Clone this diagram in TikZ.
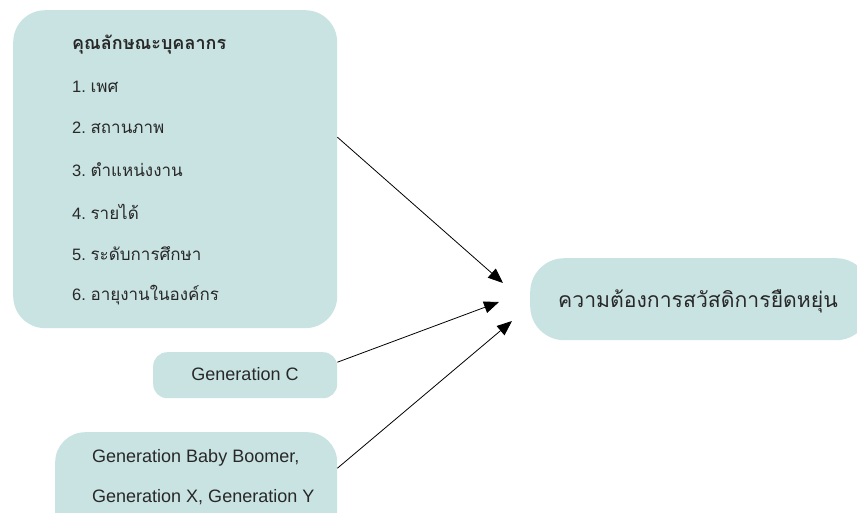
\documentclass[tikz,border=0pt]{standalone}
\usepackage{fontspec}
\setmainfont{Liberation Sans}
\newfontfamily\thai[Script=Thai]{Loma}
\usetikzlibrary{arrows.meta}
\definecolor{boxfill}{RGB}{201,227,227}
\definecolor{txt}{RGB}{40,40,40}
\newcommand{\num}[1]{{\fontsize{16.5}{18}\selectfont\rmfamily #1.\hspace{0.28em}}}
\begin{document}
\begin{tikzpicture}[x=1pt,y=-1pt,
  box/.style={fill=boxfill, draw=none, inner sep=0pt, anchor=north west},
  lbl/.style={anchor=west, inner sep=0pt, text=txt, font=\fontsize{17}{19}\selectfont\thai},
  eng/.style={anchor=center, inner sep=0pt, text=txt, font=\fontsize{18}{20}\selectfont},
  arr/.style={-{Triangle[length=15pt,width=12pt]}, line width=0.8pt}]
\useasboundingbox (0,0) rectangle (857,512);
\clip (0,0) rectangle (857,512);
% boxes
\node[box, rounded corners=32pt, minimum width=324pt, minimum height=318pt] (traits) at (13,10) {};
\node[box, rounded corners=14pt, minimum width=184pt, minimum height=46pt] (genc) at (153,352) {};
\node[box, rounded corners=30pt, minimum width=282pt, minimum height=110pt] (gens) at (55,432) {};
\node[box, rounded corners=34pt, minimum width=340pt, minimum height=82pt] (need) at (530,258) {};
% texts
\node[lbl, font=\fontsize{18}{20}\selectfont\thai\bfseries] (h) at (72,45) {คุณลักษณะบุคลากร};
\node[lbl] (i1) at (72,87) {\num{1}เพศ};
\node[lbl] (i2) at (72,128) {\num{2}สถานภาพ};
\node[lbl] (i3) at (72,170) {\num{3}ตำแหน่งงาน};
\node[lbl] (i4) at (72,212) {\num{4}รายได้};
\node[lbl] (i5) at (72,254) {\num{5}ระดับการศึกษา};
\node[lbl] (i6) at (72,295) {\num{6}อายุงานในองค์กร};
\node[eng] (gct) at (245,374) {Generation C};
\node[eng, anchor=west] (g1) at (92,458) {Generation Baby Boomer,};
\node[eng, anchor=west] (g2) at (92,497) {Generation X, Generation Y};
\node[lbl, anchor=center, font=\fontsize{21.2}{23}\selectfont\thai] (nt) at (698,301) {ความต้องการสวัสดิการยืดหยุ่น};
% arrows
\coordinate (t1) at (503,283);
\coordinate (t2) at (499,302);
\coordinate (t3) at (512,321);
\draw[arr] ([yshift=32pt]traits.east) -- (t1);
\draw[arr] ([yshift=13pt]genc.east) -- (t2);
\draw[arr] ([yshift=19pt]gens.east) -- (t3);
\end{tikzpicture}
\end{document}
